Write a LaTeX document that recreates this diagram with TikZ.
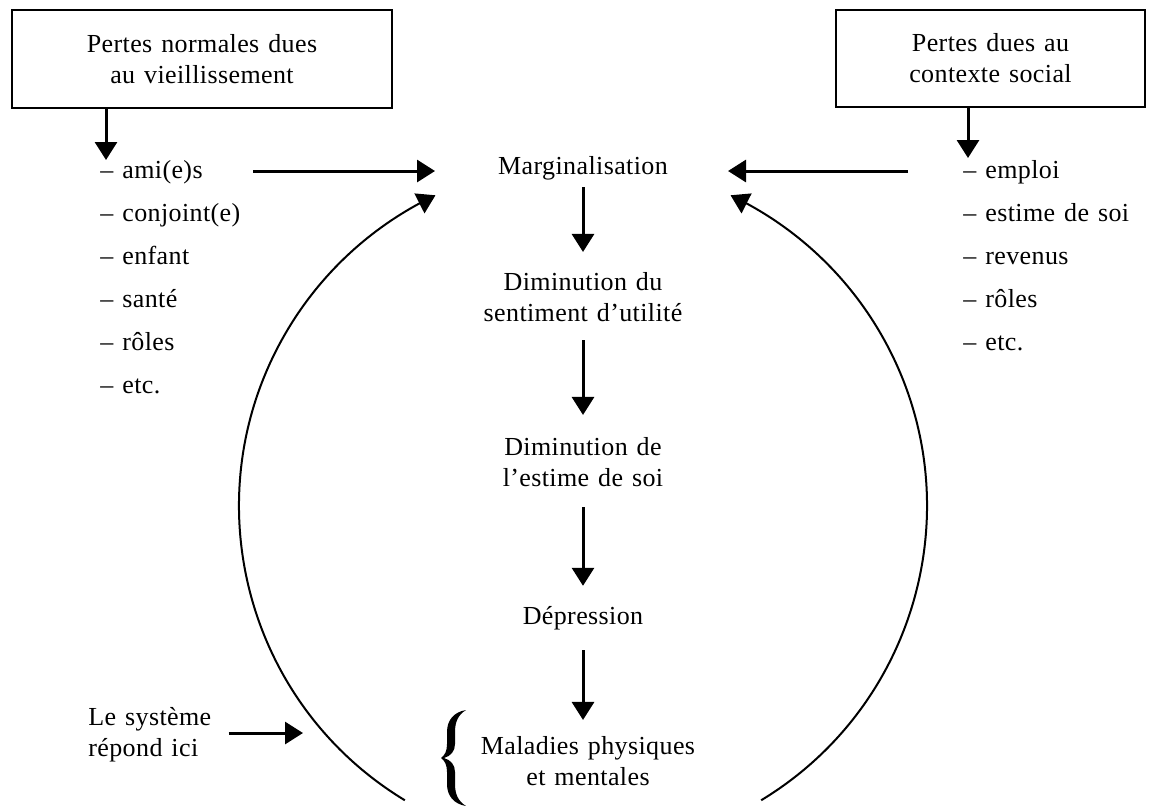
\documentclass[tikz,border=0pt]{standalone}
\usepackage{fontspec}
\setmainfont{Liberation Serif}[LetterSpace=1.5,WordSpace=1.3]
\usetikzlibrary{arrows.meta,bending}
\begin{document}
\begin{tikzpicture}[x=0.5pt,y=-0.5pt,
  every node/.style={font=\fontsize{13}{15.5}\selectfont, inner sep=0pt},
  lossbox/.style={draw, line width=1.3pt, align=center},
  item/.style={anchor=base west},
  arr/.style={line width=1.5pt, -{Triangle[width=11pt,length=9pt]}},
  curvearr/.style={line width=1pt, -{Triangle[width=11pt,length=9pt]}},
  ctext/.style={align=center}
]
\useasboundingbox (0,0) rectangle (1151,805);

% boxes
\node[lossbox, minimum width=190pt, minimum height=49pt] (lbox) at (202,59)
  {Pertes normales dues\\au vieillissement};
\node[lossbox, minimum width=154.5pt, minimum height=48.5pt] (rbox) at (990.5,58.5)
  {Pertes dues au\\contexte social};

% left list
\node[item] (ami) at (100,178) {– ami(e)s};
\node[item] (conj) at (100,221) {– conjoint(e)};
\node[item] (enf) at (100,264) {– enfant};
\node[item] (sante) at (100,307) {– santé};
\node[item] (lroles) at (100,350) {– rôles};
\node[item] (letc) at (100,393) {– etc.};

% right list
\node[item] (emploi) at (963,178) {– emploi};
\node[item] (estime) at (963,221) {– estime de soi};
\node[item] (rev) at (963,264) {– revenus};
\node[item] (rroles) at (963,307) {– rôles};
\node[item] (retc) at (963,350) {– etc.};

% centre column
\node[ctext] (marg) at (583,168) {Marginalisation};
\node[ctext] (dim1) at (583,297) {Diminution du\\sentiment d’utilité};
\node[ctext] (dim2) at (583,462) {Diminution de\\l’estime de soi};
\node[ctext] (dep) at (583,618) {Dépression};
\node[ctext] (mal) at (588,761) {Maladies physiques\\et mentales};

% brace
\fill (466,710) .. controls (454,712) and (447,720) .. (447,732) -- (447,744)
  .. controls (447,751) and (445,755) .. (441,758)
  .. controls (445,761) and (447,765) .. (447,772) -- (447,784)
  .. controls (447,796) and (454,804) .. (466,806)
  .. controls (458,801) and (455,794) .. (455,784) -- (455,772)
  .. controls (455,765) and (451,760) .. (444,758)
  .. controls (451,756) and (455,751) .. (455,744) -- (455,732)
  .. controls (455,722) and (458,715) .. (466,710) -- cycle;

\node[align=left, anchor=west] (sys) at (88,735) {Le système\\répond ici};

% down arrows from boxes
\coordinate (ltip) at (106,160);
\coordinate (rtip) at (968,158);
\draw[arr] (lbox.south -| ltip) -- (ltip);
\draw[arr] (rbox.south -| rtip) -- (rtip);

% horizontal arrows to Marginalisation
\coordinate (hls) at (253,171);
\coordinate (hle) at (435,171);
\coordinate (hrs) at (908,171);
\coordinate (hre) at (728,171);
\draw[arr] (hls) -- (hle);
\draw[arr] (hrs) -- (hre);

% centre arrows
\draw[arr] ([yshift=-3.5pt]marg.south) -- ([yshift=10pt]dim1.north);
\draw[arr] ([yshift=-9pt]dim1.south) -- ([yshift=11pt]dim2.north);
\draw[arr] ([yshift=-10pt]dim2.south) -- ([yshift=10pt]dep.north);
\draw[arr] ([yshift=-10pt]dep.south) -- ([yshift=8pt]dep.south |- mal.north);

% system arrow
\coordinate (sysend) at (303,733);
\draw[arr] ([xshift=8.5pt]sys.east |- sysend) -- (sysend);

% feedback arcs
\coordinate (cc) at (583,506);
\draw[curvearr] (cc) ++(121.2:344) arc[start angle=121.2, end angle=244.6, radius=344];
\draw[curvearr] (cc) ++(58.8:344) arc[start angle=58.8, end angle=-64.6, radius=344];
\end{tikzpicture}
\end{document}
